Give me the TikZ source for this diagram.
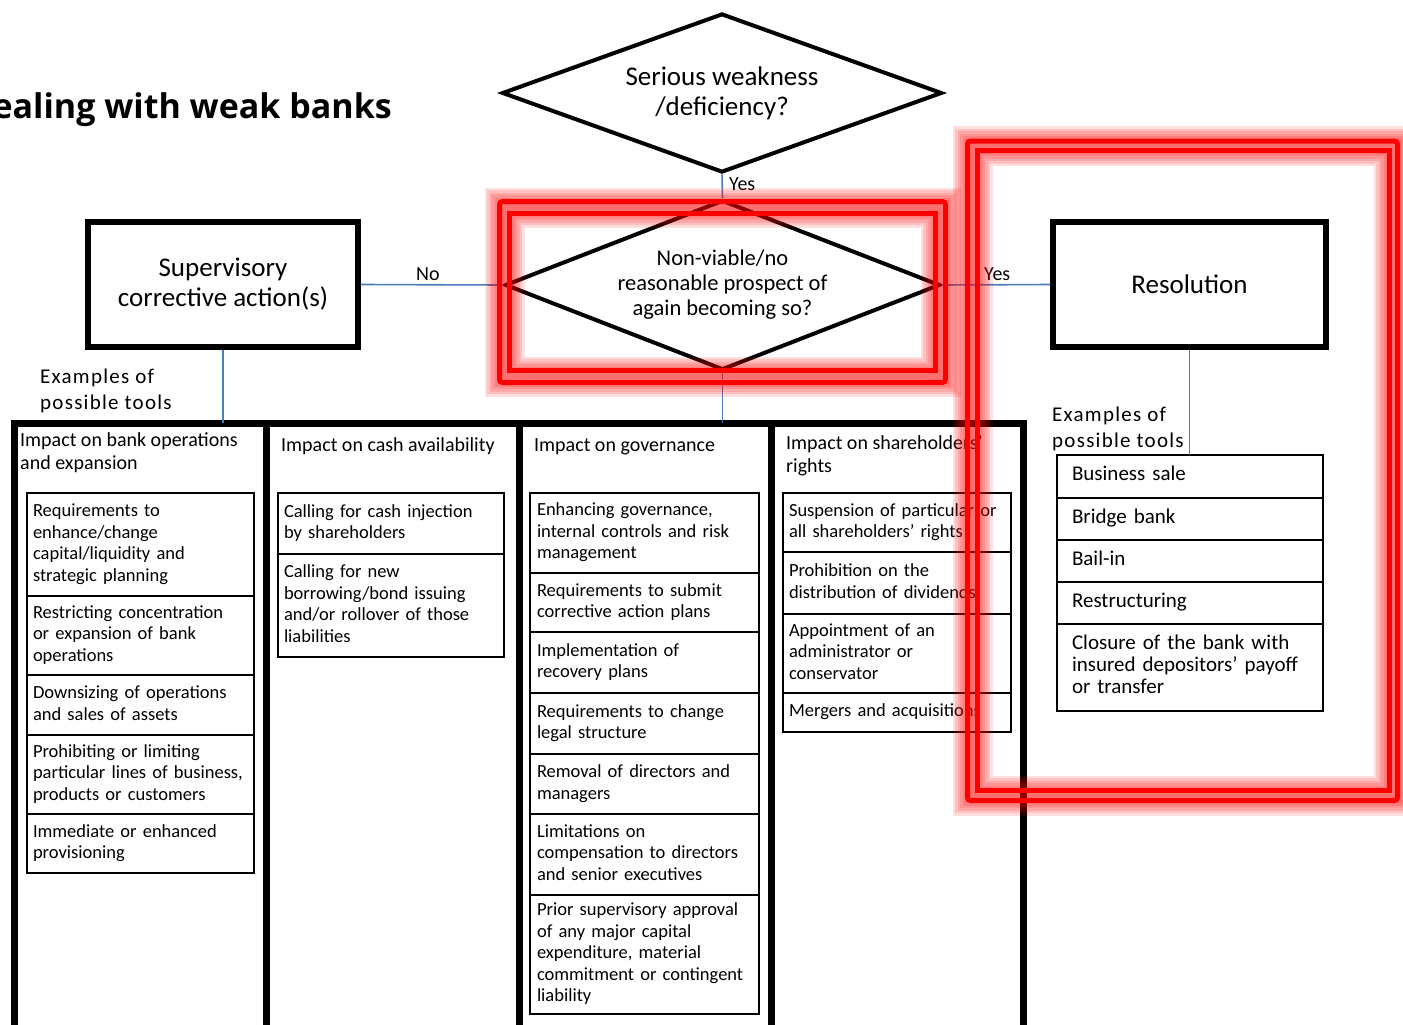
\documentclass[tikz,border=0pt]{standalone}
\usepackage{fontspec}
\setmainfont{Carlito}
\newfontfamily\titlefont{Open Sans}
\newfontfamily\spacedfont{Carlito}[LetterSpace=6]
\usetikzlibrary{shapes.geometric}
\definecolor{connblue}{HTML}{4A7EBB}
\definecolor{hlred}{HTML}{FF0000}
\hyphenpenalty=10000
\exhyphenpenalty=10000
\begin{document}
\begin{tikzpicture}[x=1pt,y=-1pt,
  connline/.style={draw=connblue, line width=1.6},
  dia/.style={diamond, draw, line width=4, inner sep=0, align=center},
  bigbox/.style={rectangle, draw, line width=5.5, inner sep=0, align=center, font=\fontsize{27}{30}\selectfont},
  colbox/.style={rectangle, draw, line width=7, inner sep=0, anchor=north west, outer sep=0},
  cell/.style={rectangle, draw, line width=1.8, anchor=north west, inner ysep=0, outer sep=0, align=left,
     font=\fontsize{18.5}{21.5}\selectfont, execute at begin node=\strut, execute at end node=\strut},
  ca/.style={cell, minimum width=227, text width=215, inner xsep=6},
  cb/.style={cell, minimum width=226, text width=214, inner xsep=6},
  cc/.style={cell, minimum width=229, text width=215, inner xsep=7},
  cd/.style={cell, minimum width=228, text width=216, inner xsep=6},
  tool/.style={cell, minimum width=266, text width=236, inner xsep=15, font=\fontsize{21}{22}\selectfont},
  hdr/.style={anchor=north west, inner sep=0, align=left, font=\fontsize{20}{23}\selectfont, execute at begin node=\strut},
  lbl/.style={anchor=base west, inner sep=0, font=\fontsize{20}{24}\selectfont},
  exlbl/.style={anchor=north west, inner sep=0, align=left, font=\spacedfont\fontsize{21}{26}\selectfont, execute at begin node=\strut},
  glow/.style={draw=hlred}
]
\useasboundingbox (0,0) rectangle (1403,1025);
\clip (0,0) rectangle (1403,1025);

% title
\node[anchor=base east, inner sep=0, font=\titlefont\bfseries\fontsize{34}{40}\selectfont] (title) at (392,118) {ealing with weak banks};

% decision diamonds
\node[dia, shape aspect=2.77, minimum width=440, minimum height=159, font=\fontsize{27}{30}\selectfont] (d1) at (722,93) {Serious weakness\\/deficiency?};
\node[dia, shape aspect=2.56, minimum width=435, minimum height=170, font=\fontsize{22.5}{25}\selectfont] (d2) at (722.5,285) {Non-viable/no\\reasonable prospect of\\again becoming so?};

% main boxes
\node[bigbox, minimum width=270, minimum height=125] (sup) at (223,284.5) {Supervisory\\corrective action(s)};
\node[bigbox, minimum width=273, minimum height=125] (res) at (1189.5,284.5) {Resolution};

% table columns
\node[colbox, minimum width=252.5, minimum height=650] (col1) at (14,423) {};
\node[colbox, minimum width=252.5, minimum height=650] (col2) at (266.5,423) {};
\node[colbox, minimum width=252, minimum height=650] (col3) at (519,423) {};
\node[colbox, minimum width=252.5, minimum height=650] (col4) at (771,423) {};

% connectors
\draw[connline] (d1.south) -- (d2.north);
\draw[connline] (sup.east) -- (d2.west);
\draw[connline] (d2.east) -- (res.west);
\draw[connline] (sup.south) -- (sup.south |- col1.north);
\draw[connline] (d2.south) -- (d2.south |- col3.north);

% connector labels
\node[lbl] (yes1) at (729,190) {Yes};
\node[lbl] (no1) at (416,280) {No};
\node[lbl] (yes2) at (984,280) {Yes};

% examples labels
\node[exlbl] (ex1) at (40,369) {Examples of\\possible tools};
\node[exlbl] (ex2) at (1052,407) {Examples of\\possible tools};

% column headers
\node[hdr] (h1) at (20,432) {Impact on bank operations\\and expansion};
\node[hdr] (h2) at (281,435) {Impact on cash availability};
\node[hdr] (h3) at (534,435) {Impact on governance};
\node[hdr] (h4) at (786,435) {Impact on shareholders'\\rights};

% column 1 cells
\node[ca, minimum height=103] (a1) at (27,493) {Requirements to\\enhance/change\\capital/liquidity and\\strategic planning};
\node[ca, minimum height=79] (a2) at (27,596) {Restricting concentration\\or expansion of bank\\operations};
\node[ca, minimum height=60] (a3) at (27,675) {Downsizing of operations\\and sales of assets};
\node[ca, minimum height=79] (a4) at (27,735) {Prohibiting or limiting\\particular lines of business,\\products or customers};
\node[ca, minimum height=59] (a5) at (27,814) {Immediate or enhanced\\provisioning};

% column 2 cells
\node[cb, minimum height=61] (b1) at (278,493) {Calling for cash injection\\by shareholders};
\node[cb, minimum height=103] (b2) at (278,554) {Calling for new\\borrowing/bond issuing\\and/or rollover of those\\liabilities};

% column 3 cells
\node[cc, minimum height=80] (c1) at (530,493) {Enhancing governance,\\internal controls and risk\\management};
\node[cc, minimum height=59] (c2) at (530,573) {Requirements to submit\\corrective action plans};
\node[cc, minimum height=61] (c3) at (530,632) {Implementation of\\recovery plans};
\node[cc, minimum height=61] (c4) at (530,693) {Requirements to change\\legal structure};
\node[cc, minimum height=60] (c5) at (530,754) {Removal of directors and\\managers};
\node[cc, minimum height=81] (c6) at (530,814) {Limitations on\\compensation to directors\\and senior executives};
\node[cc, minimum height=119] (c7) at (530,895) {Prior supervisory approval\\of any major capital\\expenditure, material\\commitment or contingent\\liability};

% column 4 cells
\node[cd, minimum height=59] (e1) at (783,493) {Suspension of particular or\\all shareholders' rights};
\node[cd, minimum height=62] (e2) at (783,552) {Prohibition on the\\distribution of dividends};
\node[cd, minimum height=79] (e3) at (783,614) {Appointment of an\\administrator or\\conservator};
\node[cd, minimum height=39] (e4) at (783,693) {Mergers and acquisitions};

% resolution tools
\node[tool, minimum height=43] (t1) at (1057,455) {Business sale};
\node[tool, minimum height=42] (t2) at (1057,498) {Bridge bank};
\node[tool, minimum height=42] (t3) at (1057,540) {Bail-in};
\node[tool, minimum height=42] (t4) at (1057,582) {Restructuring};
\node[tool, minimum height=87] (t5) at (1057,624) {Closure of the bank with\\insured depositors' payoff\\or transfer};
\draw[connline] (res.south) -- (res.south |- t1.north);

% red highlights
\foreach \w in {40,35,30,25,20,15} {
  \draw[glow, line width=\w, opacity=0.13] (504.5,207.5) rectangle (940.5,376.5);
  \draw[glow, line width=\w, opacity=0.13] (972.5,146) rectangle (1393.5,795.5);
}
\draw[hlred, line width=5, rounded corners=3] (499.5,201.5) rectangle (945.5,382.5);
\draw[hlred, line width=5] (509.5,213.5) rectangle (935.5,370.5);
\draw[hlred, line width=5, rounded corners=3] (967.5,141) rectangle (1397.5,800.5);
\draw[hlred, line width=5] (977.5,150.5) rectangle (1389.5,790.5);
\end{tikzpicture}
\end{document}
